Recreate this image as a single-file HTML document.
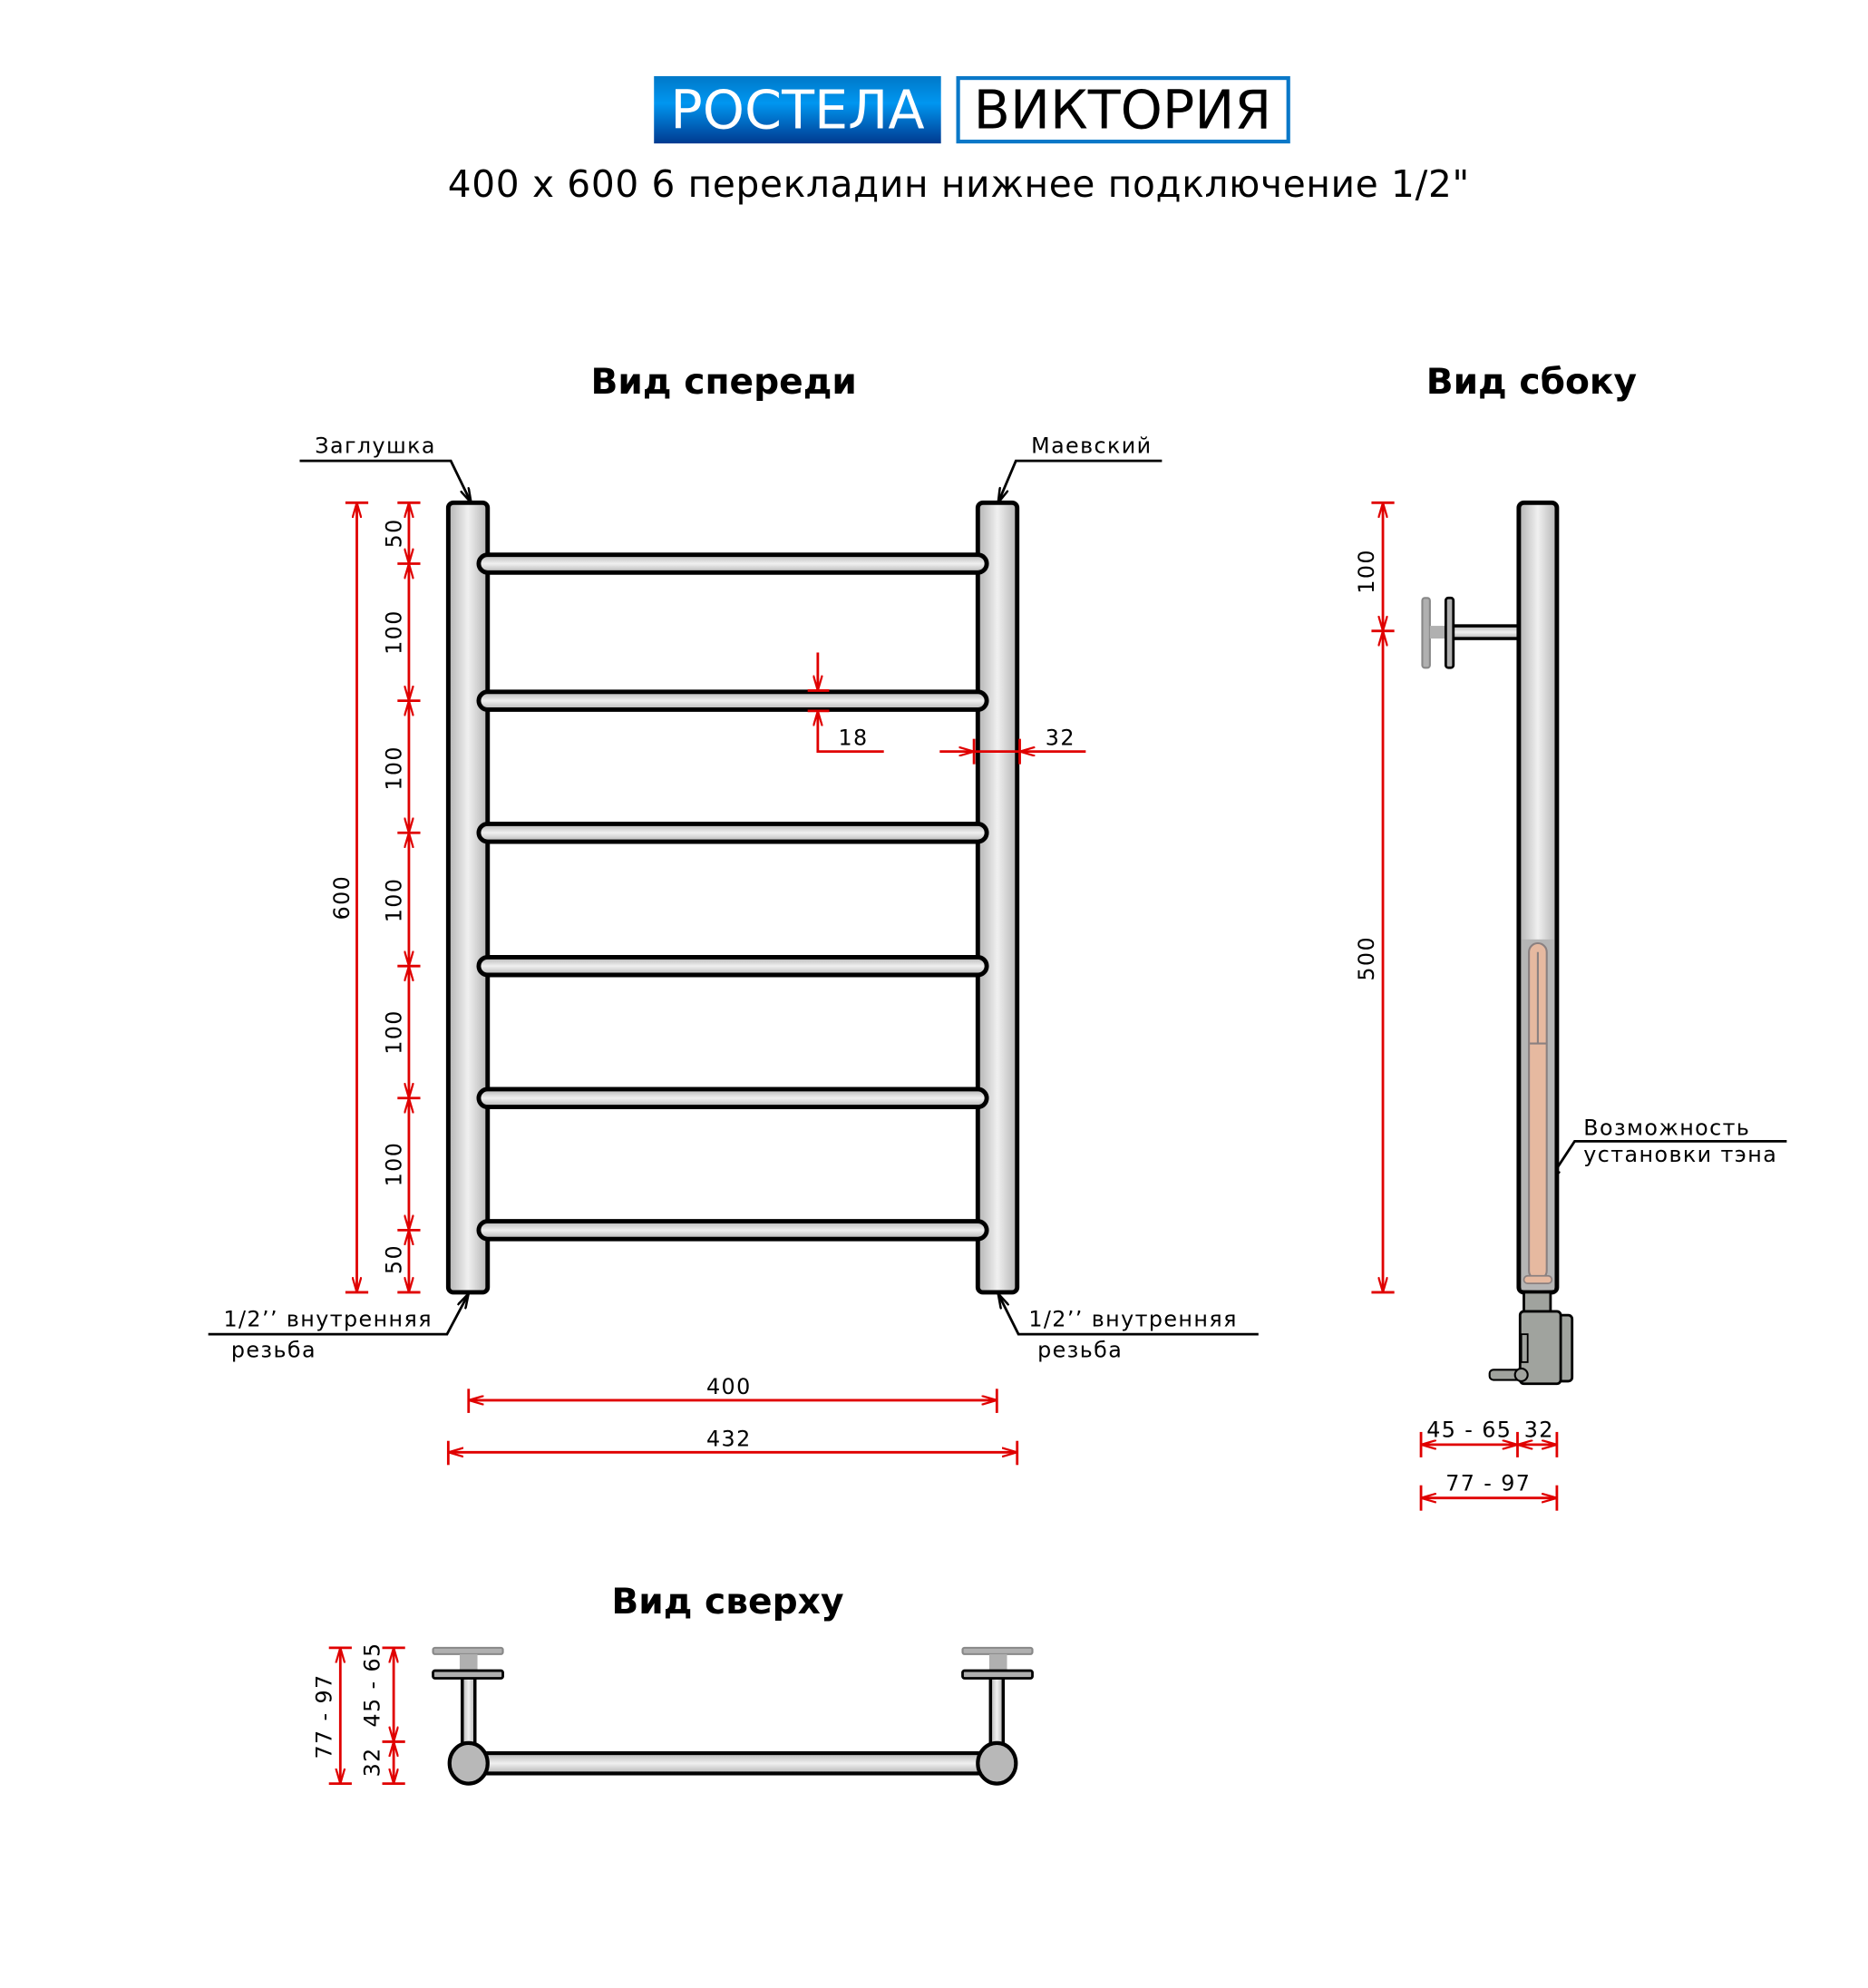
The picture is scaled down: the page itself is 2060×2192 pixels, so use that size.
<!DOCTYPE html>
<html><head><meta charset="utf-8"><style>
html,body{margin:0;padding:0;background:#fff;}
svg{display:block;}
text{font-family:"DejaVu Sans","Liberation Sans",sans-serif;fill:#000;}
</style></head><body>
<svg width="2060" height="2192" viewBox="0 0 1471 1566" preserveAspectRatio="none" xmlns="http://www.w3.org/2000/svg">
<defs>
<linearGradient id="gv" x1="0" y1="0" x2="1" y2="0">
<stop offset="0" stop-color="#b3b3b3"/><stop offset="0.5" stop-color="#f0f0f0"/><stop offset="1" stop-color="#b3b3b3"/>
</linearGradient>
<linearGradient id="gh" x1="0" y1="0" x2="0" y2="1">
<stop offset="0" stop-color="#b3b3b3"/><stop offset="0.5" stop-color="#f0f0f0"/><stop offset="1" stop-color="#b3b3b3"/>
</linearGradient>
<linearGradient id="blue" x1="0" y1="0" x2="0" y2="1">
<stop offset="0" stop-color="#0078c8"/><stop offset="0.4" stop-color="#0096f0"/><stop offset="1" stop-color="#003a90"/>
</linearGradient>
<marker id="a" viewBox="0 0 12 8" refX="12" refY="4" markerWidth="12" markerHeight="8" markerUnits="userSpaceOnUse" orient="auto-start-reverse">
<path d="M0,0.5 L12,4 L0,7.5" fill="none" stroke="#e00000" stroke-width="1.6"/>
</marker>
<marker id="k" viewBox="0 0 12 8" refX="12" refY="4" markerWidth="12" markerHeight="8" markerUnits="userSpaceOnUse" orient="auto">
<path d="M0,0.5 L12,4 L0,7.5" fill="none" stroke="#000" stroke-width="1.8"/>
</marker>
</defs>

<!-- Title -->
<rect x="515" y="60" width="226" height="53" fill="url(#blue)"/>
<text x="628" y="101" font-size="42" text-anchor="middle" style="fill:#fff">РОСТЕЛА</text>
<rect x="754.5" y="61.5" width="260" height="50" fill="#fff" stroke="#0a78c8" stroke-width="3"/>
<text x="884" y="101" font-size="42" text-anchor="middle">ВИКТОРИЯ</text>
<text x="755" y="155" font-size="29" text-anchor="middle" letter-spacing="0.5">400 x 600 6 перекладин нижнее подключение 1/2"</text>

<text x="570" y="310" font-size="28" font-weight="bold" text-anchor="middle">Вид спереди</text>
<text x="1206" y="310" font-size="28" font-weight="bold" text-anchor="middle">Вид сбоку</text>
<text x="573" y="1271" font-size="28" font-weight="bold" text-anchor="middle">Вид сверху</text>

<!-- Front view pipes -->
<g stroke="#000" stroke-width="3.5">
<rect x="353" y="396" width="31" height="622" rx="4" fill="url(#gv)"/>
<rect x="770" y="396" width="31" height="622" rx="4" fill="url(#gv)"/>
<g fill="url(#gh)">
<rect x="377" y="437" width="400" height="14" rx="7"/>
<rect x="377" y="545" width="400" height="14" rx="7"/>
<rect x="377" y="649" width="400" height="14" rx="7"/>
<rect x="377" y="754" width="400" height="14" rx="7"/>
<rect x="377" y="858" width="400" height="14" rx="7"/>
<rect x="377" y="962" width="400" height="14" rx="7"/>
</g>
</g>

<!-- Front dims -->
<g stroke="#e00000" stroke-width="2" fill="none">
<line x1="272" y1="396" x2="290" y2="396"/><line x1="272" y1="1018" x2="290" y2="1018"/>
<line x1="281" y1="396" x2="281" y2="1018" marker-start="url(#a)" marker-end="url(#a)"/>
<line x1="313" y1="396" x2="331" y2="396"/><line x1="313" y1="444" x2="331" y2="444"/>
<line x1="313" y1="552" x2="331" y2="552"/><line x1="313" y1="656" x2="331" y2="656"/>
<line x1="313" y1="761" x2="331" y2="761"/><line x1="313" y1="865" x2="331" y2="865"/>
<line x1="313" y1="969" x2="331" y2="969"/><line x1="313" y1="1018" x2="331" y2="1018"/>
<line x1="322" y1="396" x2="322" y2="444" marker-start="url(#a)" marker-end="url(#a)"/>
<line x1="322" y1="444" x2="322" y2="552" marker-start="url(#a)" marker-end="url(#a)"/>
<line x1="322" y1="552" x2="322" y2="656" marker-start="url(#a)" marker-end="url(#a)"/>
<line x1="322" y1="656" x2="322" y2="761" marker-start="url(#a)" marker-end="url(#a)"/>
<line x1="322" y1="761" x2="322" y2="865" marker-start="url(#a)" marker-end="url(#a)"/>
<line x1="322" y1="865" x2="322" y2="969" marker-start="url(#a)" marker-end="url(#a)"/>
<line x1="322" y1="969" x2="322" y2="1018" marker-start="url(#a)" marker-end="url(#a)"/>
<!-- 18 -->
<line x1="636" y1="544" x2="653" y2="544"/><line x1="636" y1="560" x2="653" y2="560"/>
<line x1="644" y1="514" x2="644" y2="544" marker-end="url(#a)"/>
<polyline points="696,592 644,592 644,560" marker-end="url(#a)"/>
<!-- 32 -->
<line x1="767" y1="582" x2="767" y2="602"/><line x1="803" y1="582" x2="803" y2="602"/>
<line x1="740" y1="592" x2="767" y2="592" marker-end="url(#a)"/>
<line x1="855" y1="592" x2="803" y2="592" marker-end="url(#a)"/>
<line x1="767" y1="592" x2="803" y2="592"/>
<!-- 400/432 -->
<line x1="369" y1="1094" x2="369" y2="1113"/><line x1="785" y1="1094" x2="785" y2="1113"/>
<line x1="369" y1="1103" x2="785" y2="1103" marker-start="url(#a)" marker-end="url(#a)"/>
<line x1="353" y1="1135" x2="353" y2="1154"/><line x1="801" y1="1135" x2="801" y2="1154"/>
<line x1="353" y1="1144" x2="801" y2="1144" marker-start="url(#a)" marker-end="url(#a)"/>
</g>
<g font-size="17" letter-spacing="1">
<text transform="translate(275,707) rotate(-90)" text-anchor="middle">600</text>
<text transform="translate(316,420) rotate(-90)" text-anchor="middle">50</text>
<text transform="translate(316,498) rotate(-90)" text-anchor="middle">100</text>
<text transform="translate(316,605) rotate(-90)" text-anchor="middle">100</text>
<text transform="translate(316,709) rotate(-90)" text-anchor="middle">100</text>
<text transform="translate(316,813) rotate(-90)" text-anchor="middle">100</text>
<text transform="translate(316,917) rotate(-90)" text-anchor="middle">100</text>
<text transform="translate(316,992) rotate(-90)" text-anchor="middle">50</text>
<text x="672" y="587" text-anchor="middle">18</text>
<text x="835" y="587" text-anchor="middle">32</text>
<text x="574" y="1098" text-anchor="middle">400</text>
<text x="574" y="1139" text-anchor="middle">432</text>
<text x="248" y="357">Заглушка</text>
<text x="812" y="357">Маевский</text>
<text x="176" y="1045">1/2’’ внутренняя</text>
<text x="182" y="1069">резьба</text>
<text x="810" y="1045">1/2’’ внутренняя</text>
<text x="817" y="1069">резьба</text>
<text x="1247" y="894">Возможность</text>
<text x="1247" y="915">установки тэна</text>
<text x="1157" y="1132" text-anchor="middle">45 - 65</text>
<text x="1212" y="1132" text-anchor="middle">32</text>
<text x="1172" y="1174" text-anchor="middle">77 - 97</text>
<text transform="translate(1082,450) rotate(-90)" text-anchor="middle">100</text>
<text transform="translate(1082,755) rotate(-90)" text-anchor="middle">500</text>
<text transform="translate(261,1352) rotate(-90)" text-anchor="middle">77 - 97</text>
<text transform="translate(299,1327) rotate(-90)" text-anchor="middle">45 - 65</text>
<text transform="translate(299,1388) rotate(-90)" text-anchor="middle">32</text>
</g>
<g stroke="#000" stroke-width="2" fill="none">
<polyline points="236,363 355,363 371,396" marker-end="url(#k)"/>
<polyline points="915,363 800,363 786,396" marker-end="url(#k)"/>
<polyline points="164,1051 352,1051 369,1019" marker-end="url(#k)"/>
<polyline points="991,1051 802,1051 786,1019" marker-end="url(#k)"/>
<polyline points="1407,899 1240,899 1219,931" marker-end="url(#k)"/>
</g>

<!-- Side view -->
<g stroke="#e00000" stroke-width="2" fill="none">
<line x1="1080" y1="396" x2="1098" y2="396"/><line x1="1080" y1="497" x2="1098" y2="497"/><line x1="1080" y1="1018" x2="1098" y2="1018"/>
<line x1="1089" y1="396" x2="1089" y2="497" marker-start="url(#a)" marker-end="url(#a)"/>
<line x1="1089" y1="497" x2="1089" y2="1018" marker-start="url(#a)" marker-end="url(#a)"/>
<line x1="1119" y1="1128" x2="1119" y2="1148"/><line x1="1195" y1="1128" x2="1195" y2="1148"/><line x1="1226" y1="1128" x2="1226" y2="1148"/>
<line x1="1119" y1="1138" x2="1195" y2="1138" marker-start="url(#a)" marker-end="url(#a)"/>
<line x1="1195" y1="1138" x2="1226" y2="1138" marker-start="url(#a)" marker-end="url(#a)"/>
<line x1="1119" y1="1170" x2="1119" y2="1190"/><line x1="1226" y1="1170" x2="1226" y2="1190"/>
<line x1="1119" y1="1180" x2="1226" y2="1180" marker-start="url(#a)" marker-end="url(#a)"/>
</g>
<rect x="1120" y="471" width="6" height="55" rx="2" fill="#b0b0b0" stroke="#888" stroke-width="1.5"/>
<rect x="1126" y="493" width="12" height="10" fill="#b0b0b0"/>
<rect x="1144" y="493" width="52" height="10" fill="url(#gh)" stroke="#000" stroke-width="2.5"/>
<rect x="1138.5" y="471" width="6" height="55" rx="2" fill="#b0b0b0" stroke="#000" stroke-width="2"/>
<rect x="1196" y="396" width="30" height="622" rx="4" fill="url(#gv)" stroke="#000" stroke-width="3.5"/>
<rect x="1198" y="740" width="26" height="276" fill="#b5b5b5"/>
<rect x="1204" y="743" width="14" height="265" rx="7" fill="#e6b9a0" stroke="#8a8080" stroke-width="1.5"/>
<line x1="1211" y1="750" x2="1211" y2="822" stroke="#8a8080" stroke-width="1.5"/>
<line x1="1204" y1="822" x2="1218" y2="822" stroke="#8a8080" stroke-width="1.5"/>
<rect x="1200" y="1005" width="22" height="6" rx="3" fill="#e6b9a0" stroke="#8a8080" stroke-width="1.2"/>
<rect x="1200" y="1018" width="21" height="16" fill="#a0a39e" stroke="#000" stroke-width="2"/>
<rect x="1227" y="1036" width="11" height="52" rx="3" fill="#a0a39e" stroke="#000" stroke-width="2"/>
<rect x="1197" y="1033" width="32" height="57" rx="3" fill="#a0a39e" stroke="#000" stroke-width="2"/>
<rect x="1173" y="1079" width="25" height="8" rx="3" fill="#a0a39e" stroke="#000" stroke-width="1.5"/>
<circle cx="1198" cy="1083" r="5" fill="#a0a39e" stroke="#000" stroke-width="1.5"/>
<rect x="1198" y="1051" width="5" height="22" fill="none" stroke="#000" stroke-width="1.3"/>

<!-- Top view -->
<g stroke="#e00000" stroke-width="2" fill="none">
<line x1="259" y1="1298" x2="277" y2="1298"/><line x1="259" y1="1405" x2="277" y2="1405"/>
<line x1="268" y1="1298" x2="268" y2="1405" marker-start="url(#a)" marker-end="url(#a)"/>
<line x1="301" y1="1298" x2="319" y2="1298"/><line x1="301" y1="1372" x2="319" y2="1372"/><line x1="301" y1="1405" x2="319" y2="1405"/>
<line x1="310" y1="1298" x2="310" y2="1372" marker-start="url(#a)" marker-end="url(#a)"/>
<line x1="310" y1="1372" x2="310" y2="1405" marker-start="url(#a)" marker-end="url(#a)"/>
</g>
<g>
<rect x="341" y="1298" width="55" height="5" rx="1.5" fill="#b0b0b0" stroke="#888" stroke-width="1.5"/>
<rect x="362" y="1303" width="14" height="13" fill="#b0b0b0"/>
<rect x="364" y="1320" width="10" height="58" fill="url(#gv)" stroke="#000" stroke-width="2.5"/>
<rect x="341" y="1316" width="55" height="6" rx="1.5" fill="#b0b0b0" stroke="#000" stroke-width="2"/>
<rect x="758" y="1298" width="55" height="5" rx="1.5" fill="#b0b0b0" stroke="#888" stroke-width="1.5"/>
<rect x="779" y="1303" width="14" height="13" fill="#b0b0b0"/>
<rect x="780" y="1320" width="10" height="58" fill="url(#gv)" stroke="#000" stroke-width="2.5"/>
<rect x="758" y="1316" width="55" height="6" rx="1.5" fill="#b0b0b0" stroke="#000" stroke-width="2"/>
<rect x="369" y="1381" width="416" height="16" fill="url(#gh)" stroke="#000" stroke-width="3"/>
<ellipse cx="369" cy="1389" rx="15" ry="16" fill="#b8b8b8" stroke="#000" stroke-width="3"/>
<ellipse cx="785" cy="1389" rx="15" ry="16" fill="#b8b8b8" stroke="#000" stroke-width="3"/>
</g>
</svg>
</body></html>
